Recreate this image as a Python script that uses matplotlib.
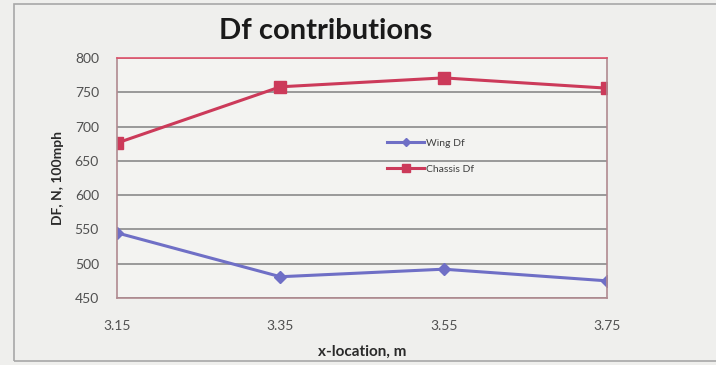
import matplotlib.pyplot as plt
from matplotlib.patches import Rectangle

# downforce contributions vs x-location
x_labels = ['3.15', '3.35', '3.55', '3.75']
wing_df = [545, 481, 492, 475]
chassis_df = [676, 758, 771, 756]

plt.rcParams['font.family'] = ['Lato', 'DejaVu Sans']

fig = plt.figure(figsize=(7.16, 3.65), dpi=100, facecolor='#efefed')
ax = fig.add_axes([0.1634, 0.1836, 0.6844, 0.6575])
ax.set_facecolor('#f3f3f1')

pos = list(range(len(x_labels)))
ax.plot(pos, wing_df, color='#6f6fc6', linewidth=2.2, marker='D',
        markersize=6, label='Wing Df')
ax.plot(pos, chassis_df, color='#cc3a5a', linewidth=2.2, marker='s',
        markersize=8, label='Chassis Df')

ax.set_xlim(0, 3)
ax.set_ylim(450, 800)
ax.set_yticks(range(450, 801, 50))
ax.set_xticks(pos)
ax.set_xticklabels(x_labels)
ax.yaxis.grid(True, color='#8a8a8a', linewidth=1.2)
ax.set_axisbelow(True)
ax.tick_params(length=0, labelsize=10, colors='#505050')
ax.tick_params(axis='y', pad=13)
ax.tick_params(axis='x', pad=16)
for side in ['left', 'right', 'bottom']:
    ax.spines[side].set_color('#b08a90')
    ax.spines[side].set_linewidth(1.2)
ax.spines['top'].set_color('#e0506a')
ax.spines['top'].set_linewidth(1.2)

ax.set_xlabel('x-location, m', fontsize=11, fontweight='bold',
              color='#2a2a2a', labelpad=9)
ax.set_ylabel('DF, N, 100mph', fontsize=10, fontweight='bold',
              color='#2a2a2a', labelpad=8)
fig.text(0.455, 0.915, 'Df contributions', ha='center', va='center',
         fontsize=21, fontweight='bold', color='#1a1a1a')

leg = ax.legend(loc='center', bbox_to_anchor=(0.64, 0.59), frameon=False,
                fontsize=7.5, handlelength=3.6, labelspacing=1.6,
                handletextpad=0.2, markerscale=0.65)
for t in leg.get_texts():
    t.set_color('#404040')

# outer chart frame
fig.patches.append(Rectangle((0.02, 0.01), 1.2, 0.98, transform=fig.transFigure,
                             fill=False, edgecolor='#a8a8a8', linewidth=1.2))

fig.savefig('out.png', dpi=100, facecolor=fig.get_facecolor())
